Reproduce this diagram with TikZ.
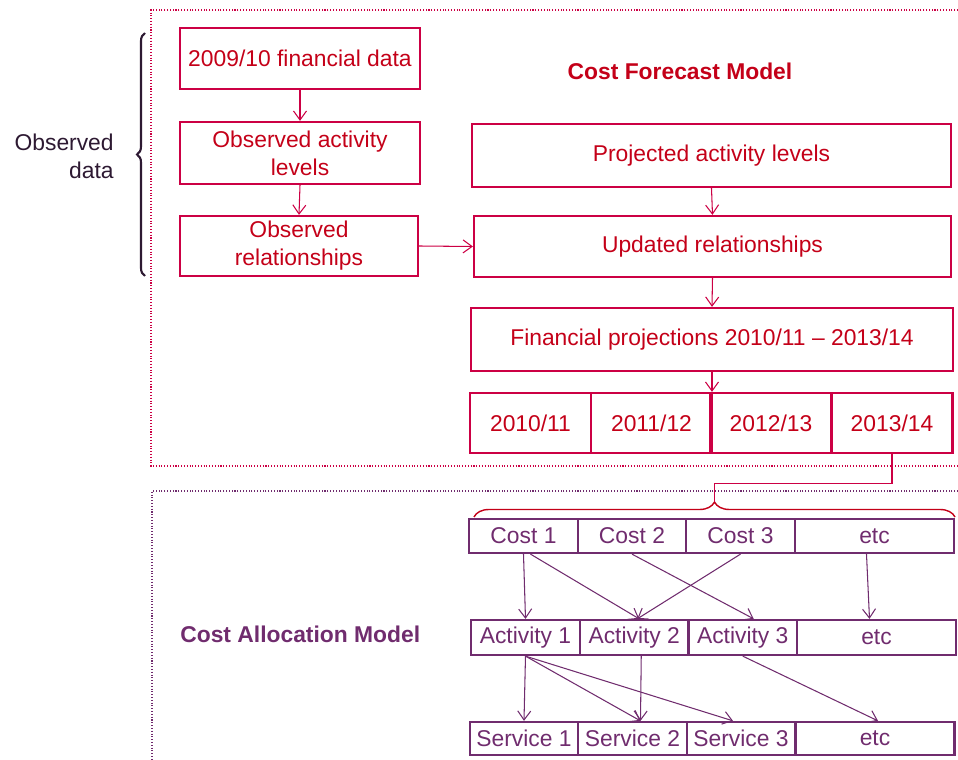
\documentclass[tikz,border=0pt]{standalone}
\usepackage{fontspec}
\setmainfont{Liberation Sans}
\usetikzlibrary{arrows.meta,decorations.pathreplacing}
\definecolor{fcred}{RGB}{204,0,68}
\definecolor{fctext}{RGB}{196,0,24}
\definecolor{capurple}{RGB}{112,44,110}
\definecolor{obsdark}{RGB}{45,25,50}

\begin{document}
\begin{tikzpicture}[
    x=0.02cm, y=-0.02cm,
    every node/.style={font=\fontsize{13}{16}\selectfont},
    fbox/.style={draw=fcred, line width=1.3pt, text=fctext, align=center, inner sep=1pt},
    abox/.style={draw=capurple, line width=1.3pt, text=capurple, inner sep=0pt},
    flink/.style={draw=fcred, line width=0.6pt},
    alink/.style={draw=capurple, line width=0.6pt},
    >={Straight Barb[length=1.8mm,width=2.6mm]},
]
  \useasboundingbox (0,0) rectangle (958,760);

  % Frames
  \draw[fcred, densely dotted, line width=0.6pt] (958,10) -- (151,10) -- (151,466) -- (958,466);
  \draw[capurple, densely dotted, line width=0.6pt] (958,491) -- (152,491) -- (152,760);

  % Observed data
  \node[fbox, minimum width=4.8cm, minimum height=1.22cm] (fin09) at (300,58.5) {2009/10 financial data};
  \node[fbox, minimum width=4.8cm, minimum height=1.24cm] (obsact) at (300,153) {Observed activity\\levels};
  \node[fbox, minimum width=4.76cm, minimum height=1.2cm] (obsrel) at (299,246) {Observed\\relationships};

  % Cost forecast model
  \node[fbox, minimum width=9.58cm, minimum height=1.26cm] (proj) at (711.5,155.5) {Projected activity levels};
  \node[fbox, minimum width=9.54cm, minimum height=1.22cm] (upd) at (712.5,246.5) {Updated relationships};
  \node[fbox, minimum width=9.64cm, minimum height=1.26cm] (finproj) at (712,339.5) {Financial projections 2010/11 -- 2013/14};
  \node[fbox, minimum width=2.42cm, minimum height=1.2cm] (y1) at (530.5,423) {2010/11};
  \node[fbox, minimum width=2.42cm, minimum height=1.2cm] (y2) at (651.5,423) {2011/12};
  \node[fbox, minimum width=2.42cm, minimum height=1.2cm] (y3) at (771,423) {2012/13};
  \node[fbox, minimum width=2.42cm, minimum height=1.2cm] (y4) at (892,423) {2013/14};

  % Cost allocation model
  \node[abox, minimum width=2.17cm, minimum height=0.68cm] (c1) at (523.5,536) {Cost 1};
  \node[abox, minimum width=2.17cm, minimum height=0.68cm] (c2) at (632,536) {Cost 2};
  \node[abox, minimum width=2.17cm, minimum height=0.68cm] (c3) at (740.5,536) {Cost 3};
  \node[abox, minimum width=3.18cm, minimum height=0.68cm] (cetc) at (874.5,536) {etc};

  \node[abox, minimum width=2.17cm, minimum height=0.7cm] (a1) at (525.5,637.5) {Activity 1};
  \node[abox, minimum width=2.17cm, minimum height=0.7cm] (a2) at (634.25,637.5) {Activity 2};
  \node[abox, minimum width=2.17cm, minimum height=0.7cm] (a3) at (742.75,637.5) {Activity 3};
  \node[abox, minimum width=3.18cm, minimum height=0.7cm] (aetc) at (876.5,637.5) {etc};

  \node[abox, minimum width=2.17cm, minimum height=0.66cm] (s1) at (524,738.5) {Service 1};
  \node[abox, minimum width=2.17cm, minimum height=0.66cm] (s2) at (632.5,738.5) {Service 2};
  \node[abox, minimum width=2.17cm, minimum height=0.66cm] (s3) at (741,738.5) {Service 3};
  \node[abox, minimum width=3.18cm, minimum height=0.66cm] (setc) at (875,738.5) {etc};

  % Labels
  \node[text=fctext, font=\bfseries\fontsize{13}{16}\selectfont] (fcm) at (680,71) {Cost Forecast Model};
  \node[text=capurple, font=\bfseries\fontsize{13}{16}\selectfont, anchor=west, inner sep=0pt] (cam) at (180,634) {Cost Allocation Model};
  \node[text=obsdark, align=right, anchor=east, inner sep=0pt] (obs) at (114,156) {Observed\\data};

  % Braces
  \draw[obsdark, line width=1.2pt, decorate, decoration={brace, amplitude=0.16cm}] (145,276) -- (145,33);
  \draw[fctext, line width=0.8pt, decorate, decoration={brace, amplitude=0.3cm}] (474,517) -- (955,517);
  \coordinate (btip) at (714.5,502);

  % Forecast arrows
  \draw[flink,->] (fin09.south) -- (obsact.north);
  \draw[flink,->] (obsact.south) -- (obsrel.north);
  \draw[flink,->] (obsrel.east) -- (upd.west);
  \draw[flink,->] (proj.south) -- (upd.north);
  \draw[flink,->] (upd.south) -- (finproj.north);
  \draw[flink,->] (finproj.south) -- (finproj.south |- y2.north);
  \draw[flink] (y4.south) -- ++(0,29) -| (btip);

  % Allocation arrows
  \draw[alink,->] (c1.south) -- (a1.north);
  \draw[alink,->] ([xshift=0.14cm]c1.south) -- ([xshift=0.1cm]a2.north);
  \draw[alink,->] (c2.south) -- ([xshift=0.22cm]a3.north);
  \draw[alink,->] (c3.south) -- ([xshift=0.06cm]a2.north);
  \draw[alink,->] ([xshift=-0.16cm]cetc.south) -- ([xshift=-0.14cm]aetc.north);
  \draw[alink,->] (a1.south) -- (s1.north);
  \draw[alink,->] (a1.south) -- ([xshift=0.16cm]s2.north);
  \draw[alink,->] (a1.south) -- ([xshift=-0.16cm]s3.north);
  \draw[alink,->] ([xshift=0.14cm]a2.south) -- ([xshift=0.16cm]s2.north);
  \draw[alink,->] (a3.south) -- ([xshift=0.06cm]setc.north);
\end{tikzpicture}
\end{document}
